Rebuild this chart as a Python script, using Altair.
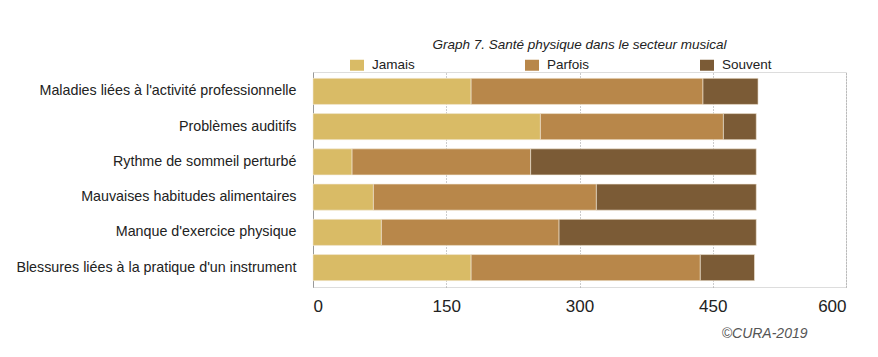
import altair as alt
import pandas as pd

categories = [
    "Maladies liées à l'activité professionnelle",
    "Problèmes auditifs",
    "Rythme de sommeil perturbé",
    "Mauvaises habitudes alimentaires",
    "Manque d'exercice physique",
    "Blessures liées à la pratique d'un instrument",
]
series = ["Jamais", "Parfois", "Souvent"]
jamais = [178, 256, 44, 68, 77, 178]
parfois = [261, 206, 201, 251, 200, 258]
souvent = [62, 37, 254, 180, 222, 61]
colors = ["#D9BB66", "#B8874A", "#7B5B36"]
x_ticks = [0, 150, 300, 450, 600]

rows = []
for i, c in enumerate(categories):
    for k, (s, vals) in enumerate(zip(series, [jamais, parfois, souvent])):
        rows.append({"cat": c, "serie": s, "val": vals[i], "ord": k})
df = pd.DataFrame(rows)

FONT = "Liberation Sans"

chart = alt.Chart(df).mark_bar(stroke="#f3ead6", strokeWidth=0.6).encode(
    y=alt.Y("cat:N", sort=categories, title=None,
            scale=alt.Scale(paddingInner=0.26, paddingOuter=0.18),
            axis=alt.Axis(ticks=False, labelPadding=17, labelFontSize=14.3,
                          labelFont=FONT, labelColor="#222", domainColor="#999",
                          domainWidth=1, labelLimit=400)),
    x=alt.X("val:Q", stack="zero",
            scale=alt.Scale(domain=[0, 600], nice=False),
            axis=alt.Axis(values=x_ticks, grid=True, gridDash=[1, 2], gridColor="#999",
                          gridWidth=1, ticks=False, domain=False, labelPadding=11,
                          labelFontSize=17, labelFont=FONT, labelColor="#222",
                          title="©CURA-2019", titleFont=FONT, titleFontSize=14,
                          titleFontStyle="italic", titleFontWeight="normal",
                          titleColor="#555", titleX=494, titleY=46,
                          titleAlign="right", titleBaseline="middle")),
    color=alt.Color("serie:N", sort=series,
                    scale=alt.Scale(domain=series, range=colors),
                    legend=alt.Legend(title=None, orient="none", direction="horizontal",
                                      legendX=37, legendY=-14, padding=0,
                                      columnPadding=110,
                                      symbolType="M-1,-0.786H1V0.786H-1Z",
                                      symbolSize=196, symbolStrokeWidth=0,
                                      labelFontSize=13.5, labelFont=FONT,
                                      labelColor="#222", labelOffset=8)),
    order=alt.Order("ord:Q"),
).properties(
    width=533, height=215,
    title=alt.TitleParams("Graph 7. Santé physique dans le secteur musical",
                          font=FONT, fontSize=13.5, fontStyle="italic",
                          fontWeight="normal", color="#222", anchor="middle",
                          offset=7),
    autosize=alt.AutoSizeParams(type="none"),
    padding={"left": 313, "top": 72, "right": 32, "bottom": 70},
).configure_view(stroke=None).configure(background="white")

chart.save("out.html", embed_options={"renderer": "svg", "actions": False})
